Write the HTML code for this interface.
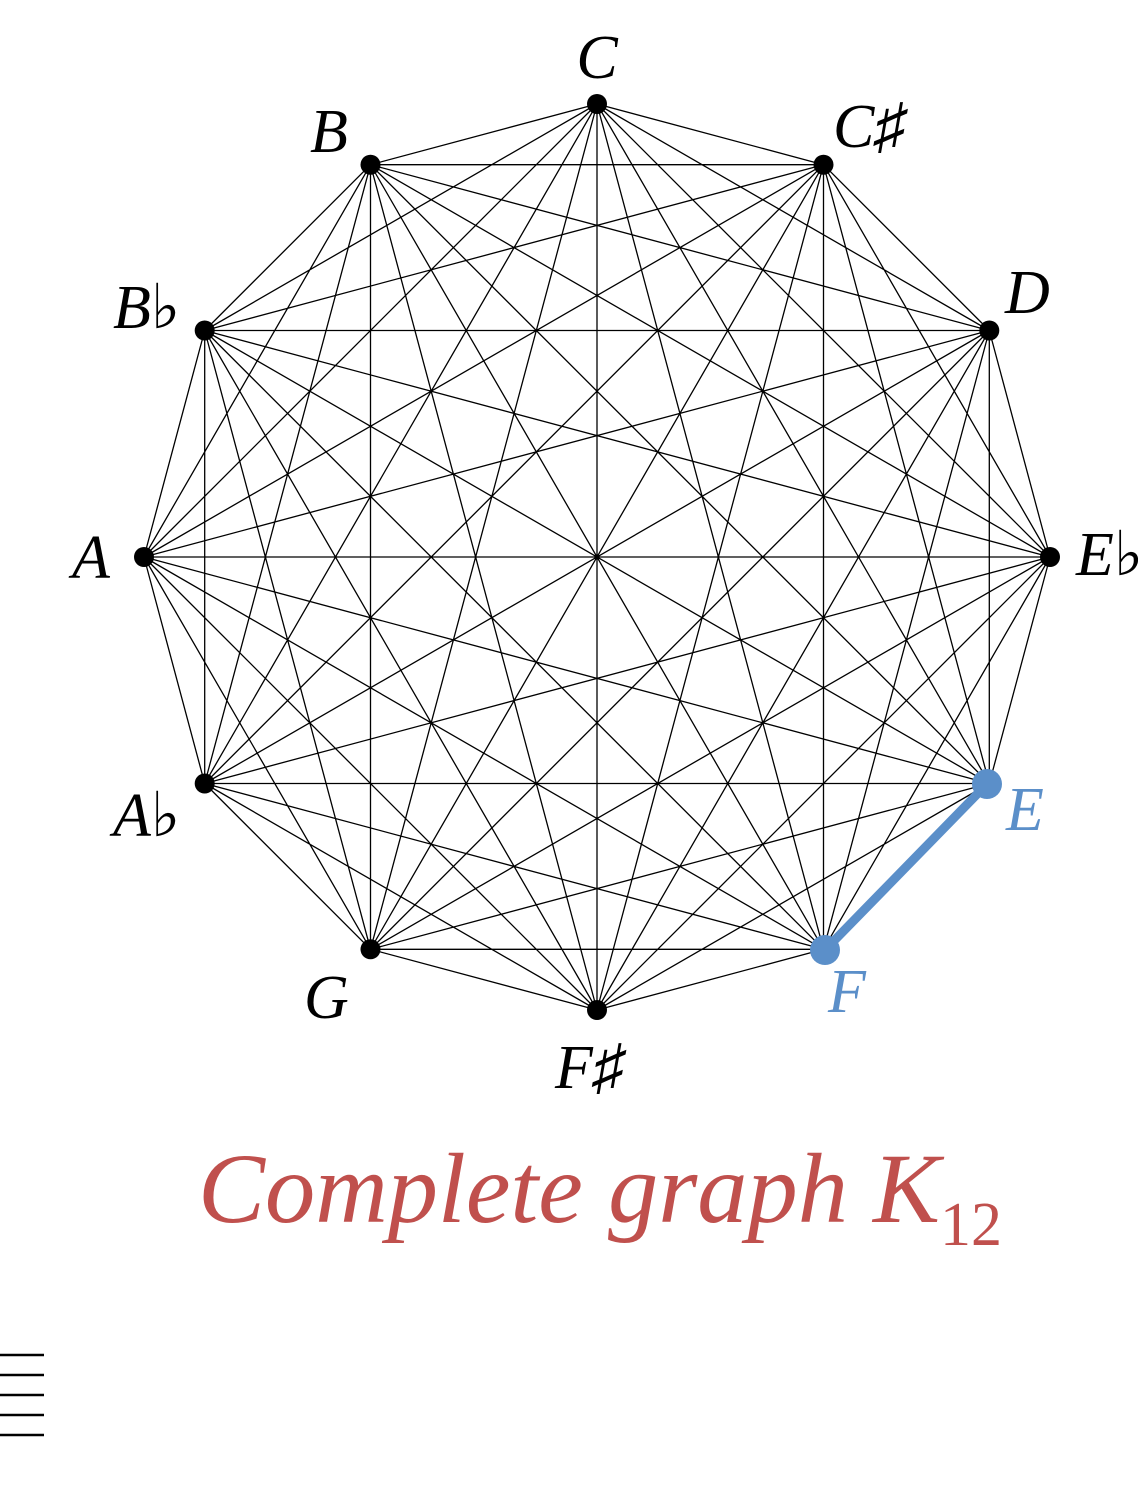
<!DOCTYPE html>
<html><head><style>html,body{margin:0;padding:0;background:#fff;}svg{display:block}</style></head>
<body>
<svg width="1138" height="1507" viewBox="0 0 1138 1507" xmlns="http://www.w3.org/2000/svg">
<path fill="none" stroke="#000" stroke-width="1.3" d="
M597 104L823.5 164.7M597 104L989.3 330.5M597 104L1050 557M597 104L989.3 783.5M597 104L823.5 949.3M597 104L597 1010M597 104L370.5 949.3M597 104L204.7 783.5M597 104L144 557M597 104L204.7 330.5M597 104L370.5 164.7
M823.5 164.7L989.3 330.5M823.5 164.7L1050 557M823.5 164.7L989.3 783.5M823.5 164.7L823.5 949.3M823.5 164.7L597 1010M823.5 164.7L370.5 949.3M823.5 164.7L204.7 783.5M823.5 164.7L144 557M823.5 164.7L204.7 330.5M823.5 164.7L370.5 164.7
M989.3 330.5L1050 557M989.3 330.5L989.3 783.5M989.3 330.5L823.5 949.3M989.3 330.5L597 1010M989.3 330.5L370.5 949.3M989.3 330.5L204.7 783.5M989.3 330.5L144 557M989.3 330.5L204.7 330.5M989.3 330.5L370.5 164.7
M1050 557L989.3 783.5M1050 557L823.5 949.3M1050 557L597 1010M1050 557L370.5 949.3M1050 557L204.7 783.5M1050 557L144 557M1050 557L204.7 330.5M1050 557L370.5 164.7
M989.3 783.5L597 1010M989.3 783.5L370.5 949.3M989.3 783.5L204.7 783.5M989.3 783.5L144 557M989.3 783.5L204.7 330.5M989.3 783.5L370.5 164.7
M823.5 949.3L597 1010M823.5 949.3L370.5 949.3M823.5 949.3L204.7 783.5M823.5 949.3L144 557M823.5 949.3L204.7 330.5M823.5 949.3L370.5 164.7
M597 1010L370.5 949.3M597 1010L204.7 783.5M597 1010L144 557M597 1010L204.7 330.5M597 1010L370.5 164.7
M370.5 949.3L204.7 783.5M370.5 949.3L144 557M370.5 949.3L204.7 330.5M370.5 949.3L370.5 164.7
M204.7 783.5L144 557M204.7 783.5L204.7 330.5M204.7 783.5L370.5 164.7
M144 557L204.7 330.5M144 557L370.5 164.7
M204.7 330.5L370.5 164.7"/>
<line x1="987" y1="784" x2="825" y2="950" stroke="#5b8fc9" stroke-width="9"/>
<g fill="#000">
<circle cx="597" cy="104" r="10"/><circle cx="823.5" cy="164.7" r="10"/><circle cx="989.3" cy="330.5" r="10"/><circle cx="1050" cy="557" r="10"/>
<circle cx="597" cy="1010" r="10"/><circle cx="370.5" cy="949.3" r="10"/><circle cx="204.7" cy="783.5" r="10"/><circle cx="144" cy="557" r="10"/><circle cx="204.7" cy="330.5" r="10"/><circle cx="370.5" cy="164.7" r="10"/>
</g>
<circle cx="987" cy="784" r="15" fill="#5b8fc9"/><circle cx="825" cy="950" r="15" fill="#5b8fc9"/>
<g font-family="'Liberation Serif','DejaVu Serif',serif" font-style="italic" font-size="62">
<text x="597" y="78" text-anchor="middle">C</text>
<text x="310" y="152">B</text>
<text x="833" y="147">C♯</text>
<text x="1005" y="313">D</text>
<text x="1076" y="575">E♭</text>
<text x="1006" y="830" fill="#5b8fc9">E</text>
<text x="828" y="1012" fill="#5b8fc9">F</text>
<text x="555" y="1088">F♯</text>
<text x="304" y="1018">G</text>
<text x="113" y="836">A♭</text>
<text x="72" y="578">A</text>
<text x="113" y="328">B♭</text>
</g>
<g fill="#c0504d" font-family="'Liberation Serif',serif">
<text x="198" y="1222" font-style="italic" font-size="100" textLength="742" lengthAdjust="spacingAndGlyphs">Complete graph K</text>
<text x="940" y="1245" font-size="62" textLength="62" lengthAdjust="spacingAndGlyphs">12</text>
</g>
<g stroke="#000" stroke-width="2.5">
<line x1="0" y1="1355" x2="44" y2="1355"/><line x1="0" y1="1375" x2="44" y2="1375"/><line x1="0" y1="1395" x2="44" y2="1395"/><line x1="0" y1="1415" x2="44" y2="1415"/><line x1="0" y1="1435" x2="44" y2="1435"/>
</g>
</svg>
</body></html>
